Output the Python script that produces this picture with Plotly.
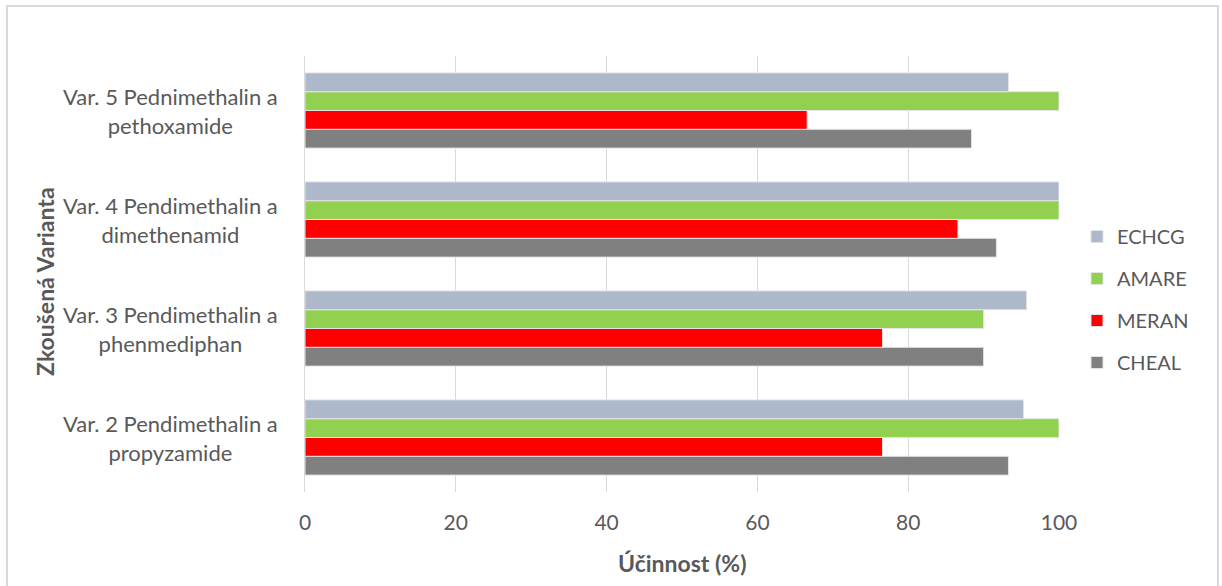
import plotly.graph_objects as go

# Herbicide variants (bottom to top on the category axis)
variants = ["Var. 2", "Var. 3", "Var. 4", "Var. 5"]
variant_labels = [
    "Var. 2 Pendimethalin a<br>propyzamide",
    "Var. 3 Pendimethalin a<br>phenmediphan",
    "Var. 4 Pendimethalin a<br>dimethenamid",
    "Var. 5 Pednimethalin a<br>pethoxamide",
]

# Efficacy (%) per weed species
cheal = [93.3, 90.0, 91.7, 88.4]
meran = [76.6, 76.6, 86.6, 66.6]
amare = [100.0, 90.0, 100.0, 100.0]
echcg = [95.3, 95.7, 100.0, 93.3]

# (name, values, colour, legend rank)
series = [
    ("CHEAL", cheal, "#808080", 4),
    ("MERAN", meran, "#FF0000", 3),
    ("AMARE", amare, "#92D050", 2),
    ("ECHCG", echcg, "#ADB9CA", 1),
]

x_ticks = [0, 20, 40, 60, 80, 100]

FONT = "Lato"
TEXT = "#595959"

fig = go.Figure()
for name, vals, color, rank in series:
    fig.add_trace(go.Bar(
        y=variants, x=vals, name=name, orientation="h",
        marker=dict(color=color, line=dict(color="#E3E3E3", width=1)),
        legendgroup=name, legendrank=rank,
    ))

# plot-area geometry in pixels
W, H = 1222, 586
L, R, T, B = 305, 1059, 56, 492
pw, ph = R - L, B - T

def px_x(x):
    return (x - L) / pw

def px_y(y):
    return (B - y) / ph

annotations = []
for v, lab in zip(variants, variant_labels):
    annotations.append(dict(
        x=px_x(170), xref="paper", y=v, yref="y", text=lab, showarrow=False,
        xanchor="center", yanchor="middle", align="center",
        font=dict(family=FONT, size=22, color=TEXT),
    ))
annotations.append(dict(
    x=px_x(45), xref="paper", y=px_y(282), yref="paper", text="<b>Zkoušená Varianta</b>",
    showarrow=False, textangle=-90, xanchor="center", yanchor="middle",
    font=dict(family=FONT, size=23, color=TEXT),
))
annotations.append(dict(
    x=px_x(682), xref="paper", y=px_y(563), yref="paper", text="<b>Účinnost (%)</b>",
    showarrow=False, xanchor="center", yanchor="middle",
    font=dict(family=FONT, size=23, color=TEXT),
))

fig.update_layout(
    width=W, height=H,
    margin=dict(l=L, r=W - R, t=T, b=H - B),
    paper_bgcolor="white", plot_bgcolor="white",
    barmode="group", bargap=0.31, bargroupgap=0,
    font=dict(family=FONT, color=TEXT),
    xaxis=dict(
        range=[0, 100], tickvals=x_ticks, showgrid=True, gridcolor="#D9D9D9",
        gridwidth=1, zeroline=False, showline=False, ticks="",
        tickfont=dict(family=FONT, size=21, color=TEXT), ticklabelstandoff=16,
    ),
    yaxis=dict(
        showticklabels=False, showgrid=False, zeroline=False,
        showline=True, linecolor="#D9D9D9", linewidth=1,
    ),
    legend=dict(
        x=px_x(1077), y=px_y(217), xanchor="left", yanchor="top",
        traceorder="grouped", tracegroupgap=13,
        font=dict(family=FONT, size=20, color=TEXT),
        itemwidth=30,
    ),
    annotations=annotations,
    shapes=[dict(
        type="rect", xref="paper", yref="paper",
        x0=px_x(7), x1=px_x(1218), y0=px_y(592), y1=px_y(6),
        line=dict(color="#D9D9D9", width=2), layer="below",
    )],
)

fig.write_html("out.html")
